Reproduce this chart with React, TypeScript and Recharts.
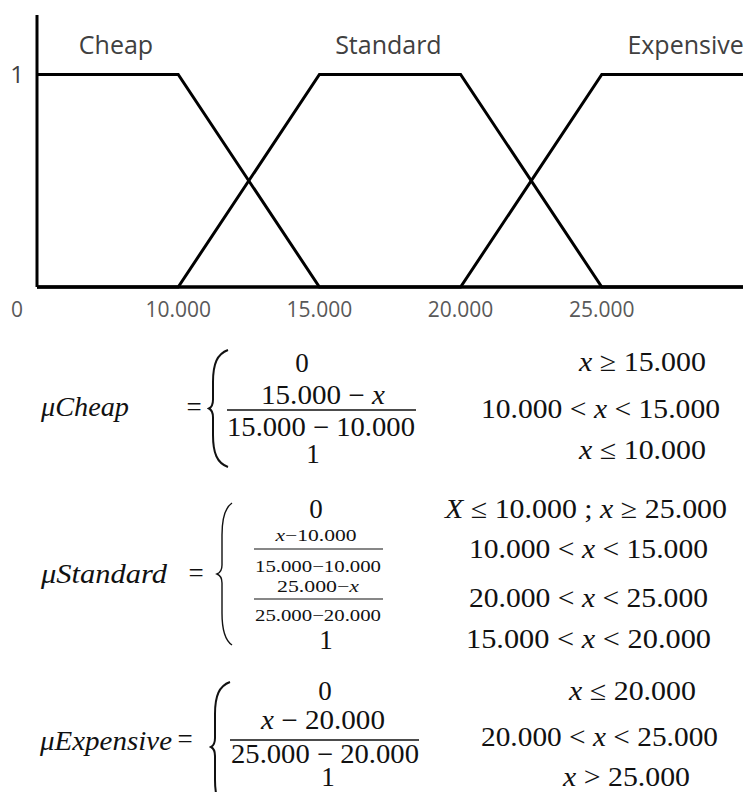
import { LineChart, Line, XAxis, YAxis } from 'recharts'

// price breakpoints (the axis is schematic: equal spacing between breakpoints)
const PRICES = ['0', '10.000', '15.000', '20.000', '25.000', '30.000']
const CHEAP = [1, 1, 0, 0, 0, 0]
const STANDARD = [0, 0, 1, 1, 0, 0]
const EXPENSIVE = [0, 0, 0, 0, 1, 1]
const Y_TICKS = [1]
const Y_MAX = 1.28

const SERIES = [
  { key: 'cheap', name: 'Cheap', labelAt: 0, dx: 79, anchor: 'middle' },
  { key: 'standard', name: 'Standard', labelAt: 2, dx: 69, anchor: 'middle' },
  { key: 'expensive', name: 'Expensive', labelAt: 4, dx: 142, anchor: 'end' },
]

const data = PRICES.map((price, i) => ({
  price,
  cheap: CHEAP[i],
  standard: STANDARD[i],
  expensive: EXPENSIVE[i],
}))

// membership function formulas, drawn as text under the chart
type Piece = {
  text: string
  x: number
  y: number
  w?: number
  anchor?: 'start' | 'middle' | 'end'
  size?: number
  italic?: boolean
}

const CHEAP_FORMULA: Piece[] = [
  { text: 'μCheap', x: 41, y: 416, w: 88, italic: true },
  { text: '=', x: 194, y: 416, anchor: 'middle' },
  { text: '0', x: 302, y: 372, anchor: 'middle' },
  { text: '15.000 − x', x: 323, y: 404, w: 124, anchor: 'middle' },
  { text: '15.000 − 10.000', x: 321, y: 436, w: 188, anchor: 'middle' },
  { text: '1', x: 313, y: 463, anchor: 'middle' },
  { text: 'x ≥ 15.000', x: 579, y: 371, w: 127 },
  { text: '10.000 < x < 15.000', x: 481, y: 418, w: 239 },
  { text: 'x ≤ 10.000', x: 579, y: 459, w: 127 },
]

const STANDARD_FORMULA: Piece[] = [
  { text: 'μStandard', x: 41, y: 583, w: 126, italic: true },
  { text: '=', x: 196, y: 582, anchor: 'middle' },
  { text: '0', x: 316, y: 518, anchor: 'middle' },
  { text: 'x−10.000', x: 316, y: 541, w: 81, size: 17, anchor: 'middle' },
  { text: '15.000−10.000', x: 318, y: 572, w: 126, size: 17, anchor: 'middle' },
  { text: '25.000−x', x: 318, y: 592, w: 82, size: 17, anchor: 'middle' },
  { text: '25.000−20.000', x: 318, y: 621, w: 126, size: 17, anchor: 'middle' },
  { text: '1', x: 326, y: 649, anchor: 'middle' },
  { text: 'X ≤ 10.000 ; x ≥ 25.000', x: 445, y: 518, w: 282 },
  { text: '10.000 < x < 15.000', x: 469, y: 558, w: 239 },
  { text: '20.000 < x < 25.000', x: 469, y: 607, w: 239 },
  { text: '15.000  < x < 20.000', x: 466, y: 648, w: 245 },
]

const EXPENSIVE_FORMULA: Piece[] = [
  { text: 'μExpensive', x: 40, y: 750, w: 132, italic: true },
  { text: '=', x: 185, y: 748, anchor: 'middle' },
  { text: '0', x: 325, y: 700, anchor: 'middle' },
  { text: 'x − 20.000', x: 323, y: 729, w: 124, anchor: 'middle' },
  { text: '25.000 − 20.000', x: 325, y: 763, w: 188, anchor: 'middle' },
  { text: '1', x: 328, y: 786, anchor: 'middle' },
  { text: 'x ≤ 20.000', x: 569, y: 700, w: 127 },
  { text: '20.000 < x < 25.000', x: 481, y: 746, w: 237 },
  { text: 'x > 25.000', x: 563, y: 786, w: 127 },
]

const BARS = [
  { x1: 227, x2: 416, y: 410, w: 1.4 },
  { x1: 254, x2: 383, y: 549, w: 1.2 },
  { x1: 254, x2: 383, y: 599, w: 1.2 },
  { x1: 230, x2: 419, y: 740, w: 1.4 },
]

const BRACES = [
  { x: 209, top: 350, bottom: 467, arm: 4, end: 19, w: 2 },
  { x: 217, top: 503, bottom: 645, arm: 5, end: 15, w: 1.4 },
  { x: 211, top: 682, bottom: 812, arm: 4, end: 19, w: 2 },
]

function bracePath(b: typeof BRACES[number]) {
  const { x, top, bottom, arm, end } = b
  const mid = (top + bottom) / 2
  return [
    `M ${x + end} ${top}`,
    `C ${x + arm + 4} ${top + 4}, ${x + arm} ${top + 14}, ${x + arm} ${top + 32}`,
    `L ${x + arm} ${mid - 9}`,
    `Q ${x + arm} ${mid - 2}, ${x} ${mid}`,
    `Q ${x + arm} ${mid + 2}, ${x + arm} ${mid + 9}`,
    `L ${x + arm} ${bottom - 32}`,
    `C ${x + arm} ${bottom - 14}, ${x + arm + 4} ${bottom - 4}, ${x + end} ${bottom}`,
  ].join(' ')
}

// italic for the variable x, upright for everything else
function mathSpans(text: string, italicAll?: boolean) {
  if (italicAll) return <tspan fontStyle="italic">{text}</tspan>
  return text.split(/([xX])/).filter(Boolean).map((part, i) => (
    <tspan key={i} fontStyle={/^[xX]$/.test(part) ? 'italic' : 'normal'}>{part}</tspan>
  ))
}

function Formula({ pieces }: { pieces: Piece[] }) {
  return (
    <>
      {pieces.map((p, i) => (
        <text
          key={i}
          x={p.x}
          y={p.y}
          fontSize={p.size ?? 27}
          textAnchor={p.anchor ?? 'start'}
          textLength={p.w}
          lengthAdjust={p.w ? 'spacingAndGlyphs' : undefined}
          fill="#111"
        >
          {mathSpans(p.text, p.italic)}
        </text>
      ))}
    </>
  )
}

const PriceTick = (props: any) => {
  const { x, y, payload, index } = props
  if (payload.value === PRICES[PRICES.length - 1]) return <g />
  return (
    <text x={index === 0 ? x - 20 : x} y={y + 30} textAnchor="middle" fontSize={21} fill="#595959">
      {payload.value}
    </text>
  )
}

const MemberTick = (props: any) => {
  const { x, y, payload } = props
  return (
    <text x={x - 20} y={y + 8} textAnchor="middle" fontSize={24} fill="#404040">
      {payload.value}
    </text>
  )
}

function nameLabel(s: typeof SERIES[number]) {
  return (props: any) => {
    const { x, y, index } = props
    if (index !== s.labelAt) return null
    return (
      <text x={x + s.dx} y={y - 21} textAnchor={s.anchor} fontSize={25} fill="#404040">
        {s.name}
      </text>
    )
  }
}

export default function App() {
  return (
    <div style={{ position: 'absolute', left: 0, top: 0, width: 746, height: 792, background: '#fff', fontFamily: '"Open Sans", sans-serif' }}>
      <svg width={746} height={792} style={{ position: 'absolute', left: 0, top: 0 }} fontFamily='"Liberation Serif", serif'>
        <Formula pieces={CHEAP_FORMULA} />
        <Formula pieces={STANDARD_FORMULA} />
        <Formula pieces={EXPENSIVE_FORMULA} />
        {BARS.map((b, i) => (
          <line key={i} x1={b.x1} x2={b.x2} y1={b.y} y2={b.y} stroke="#111" strokeWidth={b.w} />
        ))}
        {BRACES.map((b, i) => (
          <path key={i} d={bracePath(b)} fill="none" stroke="#111" strokeWidth={b.w} />
        ))}
      </svg>
      <div style={{ position: 'absolute', left: 0, top: 0 }}>
        <LineChart width={746} height={330} data={data} margin={{ top: 15, right: 3, left: 0, bottom: 0 }}>
          <XAxis
            dataKey="price"
            interval={0}
            height={43}
            tickSize={0}
            tickMargin={0}
            tickLine={false}
            axisLine={{ stroke: '#000', strokeWidth: 3 }}
            tick={PriceTick}
          />
          <YAxis
            type="number"
            domain={[0, Y_MAX]}
            ticks={Y_TICKS}
            width={37}
            tickSize={0}
            tickMargin={0}
            tickLine={false}
            axisLine={{ stroke: '#000', strokeWidth: 3 }}
            tick={MemberTick}
          />
          {SERIES.map((s) => (
            <Line
              key={s.key}
              dataKey={s.key}
              type="linear"
              stroke="#000"
              strokeWidth={3}
              dot={false}
              activeDot={false}
              isAnimationActive={false}
              label={nameLabel(s)}
            />
          ))}
        </LineChart>
      </div>
    </div>
  )
}
